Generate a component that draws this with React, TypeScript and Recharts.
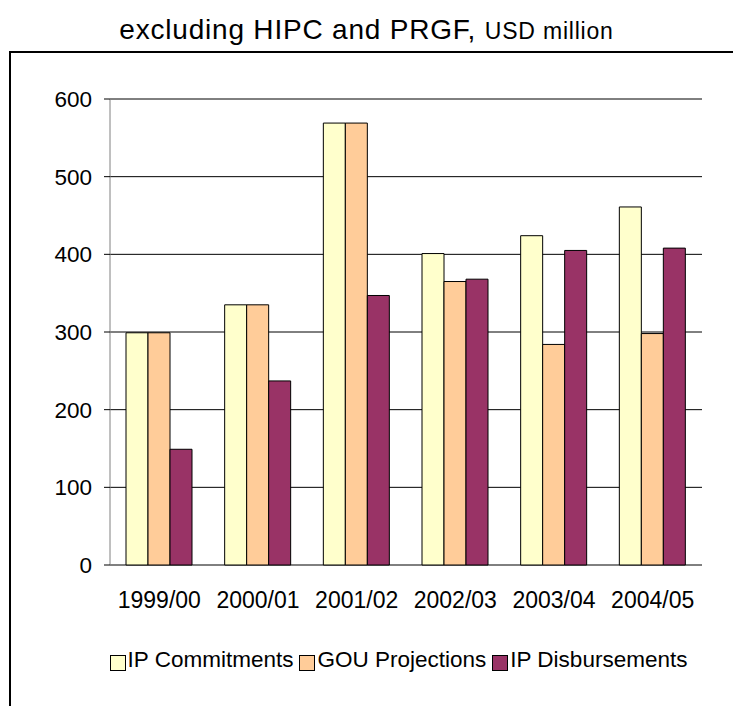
import React from "react";
import { BarChart, Bar, XAxis, YAxis, CartesianGrid, Legend } from "recharts";

const categories = ["1999/00", "2000/01", "2001/02", "2002/03", "2003/04", "2004/05"];
const ipCommitments = [299, 335, 569, 401, 424, 461];
const gouProjections = [299, 335, 569, 365, 284, 298];
const ipDisbursements = [149, 237, 347, 368, 405, 408];
const yTicks = [0, 100, 200, 300, 400, 500, 600];
const boundaryTicks = [0, 1, 2, 3, 4, 5, 6];

const seriesNames = ["IP Commitments", "GOU Projections", "IP Disbursements"];
const seriesColors = ["#FFFFCC", "#FFCC99", "#993366"];
const seriesKeys = ["commit", "gou", "disb"];

const data = categories.map((c, i) => ({
  cat: c,
  commit: ipCommitments[i],
  gou: gouProjections[i],
  disb: ipDisbursements[i],
}));

const FONT = "'Liberation Sans', Arial, sans-serif";

const LegendContent = () => (
  <div
    style={{
      display: "flex",
      justifyContent: "center",
      alignItems: "center",
      paddingLeft: 64,
      fontFamily: FONT,
      fontSize: 22.5,
      color: "#000",
    }}
  >
    {seriesNames.map((n, i) => (
      <div key={n} style={{ display: "flex", alignItems: "center", marginRight: i < 2 ? 6 : 0 }}>
        <span
          style={{
            display: "inline-block",
            width: 14,
            height: 14,
            background: seriesColors[i],
            border: "1px solid #000",
            marginRight: 2,
            marginTop: 5,
          }}
        />
        <span>{n}</span>
      </div>
    ))}
  </div>
);

export default function App() {
  return (
    <div
      style={{
        position: "absolute",
        left: 0,
        top: 0,
        width: 733,
        height: 706,
        overflow: "hidden",
        background: "#fff",
      }}
    >
      <div
        style={{
          position: "absolute",
          left: 0,
          top: 14,
          width: 733,
          textAlign: "center",
          fontFamily: FONT,
          color: "#000",
          whiteSpace: "nowrap",
          letterSpacing: 0.8,
        }}
      >
        <span style={{ fontSize: 28 }}>excluding HIPC and PRGF, </span>
        <span style={{ fontSize: 23 }}>USD million</span>
      </div>
      <div
        style={{
          position: "absolute",
          left: 9,
          top: 51,
          width: 740,
          height: 700,
          borderTop: "2px solid #000",
          borderLeft: "2px solid #000",
        }}
      />
      <div style={{ position: "absolute", left: 0, top: 0 }}>
        <BarChart
          width={733}
          height={706}
          data={data}
          margin={{ top: 99, right: 31, bottom: 101, left: 0 }}
          barCategoryGap={16}
          barGap={0}
        >
          <CartesianGrid vertical={false} stroke="#000" strokeOpacity={1} />
          <XAxis
            xAxisId="b"
            type="number"
            domain={[0, 6]}
            ticks={boundaryTicks}
            allowDataOverflow
            tick={false}
            tickSize={7}
            tickLine={{ stroke: "#808080" }}
            axisLine={{ stroke: "#000" }}
            height={0}
          />
          <XAxis
            dataKey="cat"
            tickLine={false}
            axisLine={false}
            tickMargin={21}
            height={40}
            interval={0}
            tick={{ fill: "#000", fontSize: 23, fontFamily: FONT }}
          />
          <YAxis
            width={110}
            domain={[0, 600]}
            ticks={yTicks}
            tickSize={6}
            tickMargin={12}
            tickLine={{ stroke: "#000" }}
            axisLine={{ stroke: "#808080" }}
            tick={{ fill: "#000", fontSize: 22.5, fontFamily: FONT }}
          />
          {seriesKeys.map((k, i) => (
            <Bar
              key={k}
              dataKey={k}
              name={seriesNames[i]}
              fill={seriesColors[i]}
              stroke="#000"
              strokeWidth={1}
              isAnimationActive={false}
            />
          ))}
          <Legend
            layout="horizontal"
            verticalAlign="middle"
            align="center"
            wrapperStyle={{ top: 647, left: 0, width: 733 }}
            content={<LegendContent />}
          />
        </BarChart>
      </div>
    </div>
  );
}
